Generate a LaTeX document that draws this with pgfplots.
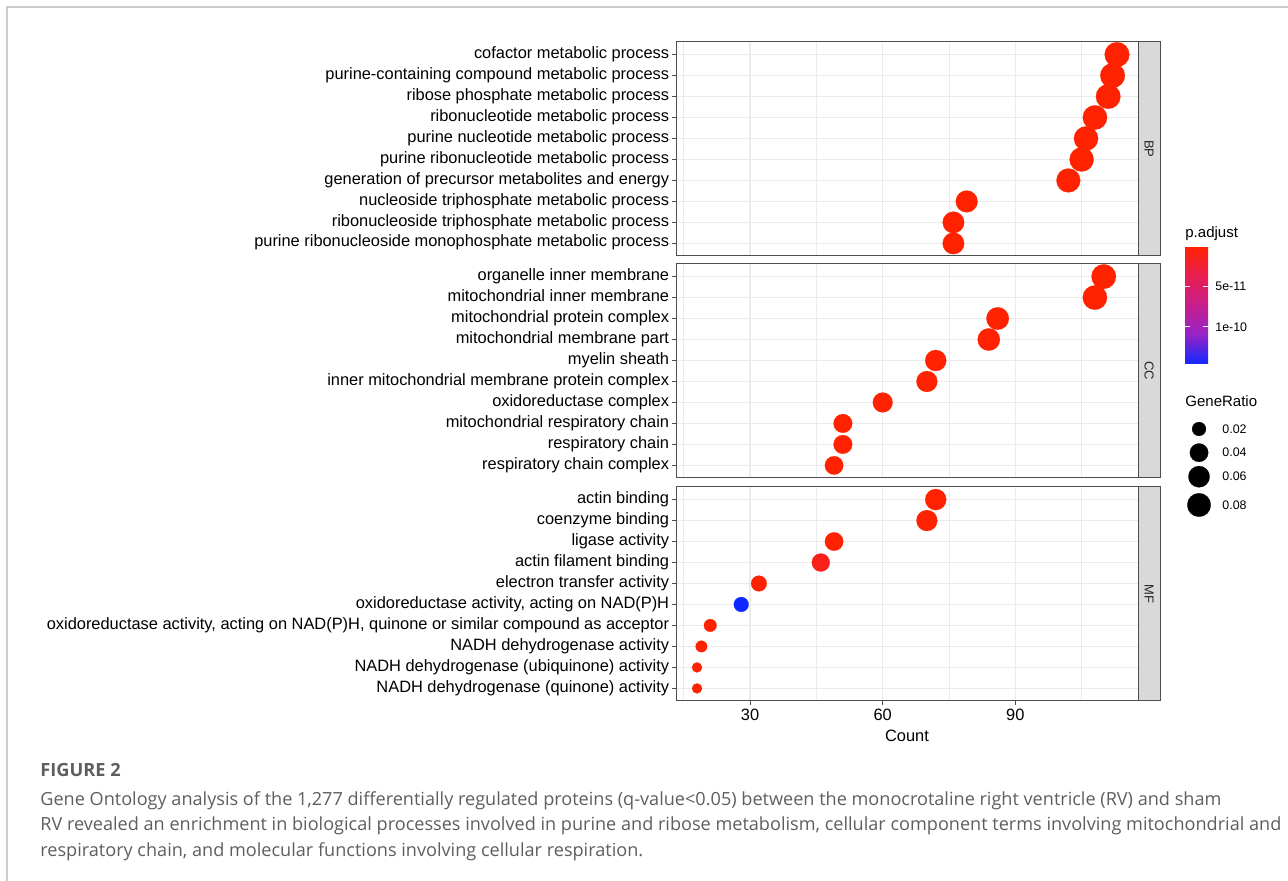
\documentclass[border=0pt]{standalone}
\usepackage{pgfplots}
\pgfplotsset{compat=1.18}
\usepackage{pgfplotstable}
\usepackage{fontspec}
\setmainfont{Liberation Sans}
\newfontfamily\capfont{Open Sans}

\definecolor{gridc}{HTML}{EBEBEB}
\definecolor{borderc}{HTML}{4D4D4D}
\definecolor{stripc}{HTML}{D9D9D9}
\definecolor{capc}{HTML}{5E5E5E}
\definecolor{framec}{HTML}{CCCCCC}

\pgfplotsset{
  /pgf/number format/assume math mode=true,
  colormap={padj}{rgb255(0)=(255,34,0) rgb255(1)=(232,30,80) rgb255(2)=(200,30,140) rgb255(3)=(150,35,200) rgb255(4)=(15,40,255)},
  panel/.style={
    scale only axis, width=231pt, height=107pt,
    xmin=13.25, xmax=117.75, ymin=0.4, ymax=10.6,
    xtick={30,60,90}, minor xtick={15,45,75,105},
    ytick={1,...,10},
    xtick pos=left, ytick pos=left,
    grid=both,
    major grid style={gridc, line width=0.6pt},
    minor grid style={gridc, line width=0.3pt},
    axis line style={borderc, line width=0.5pt},
    tick align=outside, major tick length=2pt, minor tick length=0pt,
    tick style={borderc, line width=0.5pt},
    typeset ticklabels with strut,
    tick label style={font=\fontsize{8.2}{9}\selectfont, black},
    yticklabel style={inner sep=0pt, xshift=-1.25pt},
    xticklabel style={inner sep=1.2pt},
    colormap name=padj,
    point meta min=0, point meta max=1.46e-10,
    clip mode=individual,
  },
  facetstrip/.style={
    after end axis/.append code={
      \draw[fill=stripc, draw=borderc, line width=0.5pt] (rel axis cs:1,0) rectangle (rel axis cs:1.0476,1);
      \node[rotate=-90, font=\fontsize{6.5}{7}\selectfont, text=black!85] at (rel axis cs:1.0238,0.5) {#1};
    }
  },
  dots/.style={
    scatter, only marks, mark=*, point meta=explicit,
    scatter/use mapped color={draw=mapped color, fill=mapped color},
    mark options={line width=0.1pt},
    visualization depends on={\thisrow{ratio} \as \ratio},
    scatter/@pre marker code/.append style={/tikz/mark size={2.5+3.675*sqrt(max(0,\ratio-0.0146)/0.0773)}},
  },
}

% row: 10 = top row of the panel
\pgfplotstableread{
row count ratio padj
10 113 0.0919 3.2e-40
9  112 0.0911 1.1e-38
8  111 0.0902 2.0e-38
7  108 0.0878 5.0e-37
6  106 0.0862 1.3e-35
5  105 0.0854 2.2e-35
4  102 0.0829 4.5e-33
3  79  0.0642 1.2e-30
2  76  0.0618 3.1e-29
1  76  0.0618 2.5e-28
}\tblBP

\pgfplotstableread{
row count ratio padj
10 110 0.0894 1.0e-45
9  108 0.0878 2.0e-45
8  86  0.0699 3.0e-40
7  84  0.0683 4.0e-40
6  72  0.0585 1.0e-25
5  70  0.0569 2.0e-35
4  60  0.0488 1.0e-30
3  51  0.0415 5.0e-30
2  51  0.0415 6.0e-30
1  49  0.0398 1.0e-28
}\tblCC

\pgfplotstableread{
row count ratio padj
10 72 0.0585 2.0e-14
9  70 0.0569 5.0e-15
8  49 0.0398 1.0e-13
7  46 0.0374 1.2e-11
6  32 0.0260 3.0e-15
5  28 0.0228 1.46e-10
4  21 0.0171 4.0e-13
3  19 0.0154 1.0e-13
2  18 0.0146 1.5e-13
1  18 0.0146 1.5e-13
}\tblMF

\pgfplotstableread{
x y ratio
1199 429 0.02
1199 452.7 0.04
1199 476.7 0.06
1199 505 0.08
}\tblLeg

\begin{document}
\begin{tikzpicture}
\path[use as bounding box] (0pt,0pt) rectangle (644pt,440.5pt);
\draw[framec, line width=0.8pt] (3.5pt,0pt) -- (3.5pt,437pt) -- (644pt,437pt);

% BP
\begin{axis}[panel, facetstrip=BP, at={(338pt,312.5pt)}, anchor=south west,
  xticklabels={}, xtick style={draw=none},
  yticklabels={{purine ribonucleoside monophosphate metabolic process},{ribonucleoside triphosphate metabolic process},{nucleoside triphosphate metabolic process},{generation of precursor metabolites and energy},{purine ribonucleotide metabolic process},{purine nucleotide metabolic process},{ribonucleotide metabolic process},{ribose phosphate metabolic process},{purine-containing compound metabolic process},{cofactor metabolic process}}]
\addplot[dots] table[x=count, y=row, meta=padj] {\tblBP};
\end{axis}

% CC
\begin{axis}[panel, facetstrip=CC, at={(338pt,201.5pt)}, anchor=south west,
  xticklabels={}, xtick style={draw=none},
  yticklabels={{respiratory chain complex},{respiratory chain},{mitochondrial respiratory chain},{oxidoreductase complex},{inner mitochondrial membrane protein complex},{myelin sheath},{mitochondrial membrane part},{mitochondrial protein complex},{mitochondrial inner membrane},{organelle inner membrane}},
  colorbar,
  colorbar style={
    at={(1.1017,1.0841)}, anchor=north west,
    scale only axis, width=11.5pt, height=59pt,
    y dir=reverse,
    scaled y ticks=false,
    ytick={5e-11,1e-10}, yticklabels={5e-11,1e-10},
    yticklabel pos=right, ytick pos=both,
    tick align=inside, ytick align=inside, major tick length=2.3pt,
    tick style={white, line width=0.5pt},
    ytick style={white, line width=0.5pt},
    axis line style={draw=none},
    yticklabel style={font=\fontsize{6.2}{7}\selectfont, anchor=west, inner sep=0pt, xshift=3.5pt},
    title={p.adjust},
    title style={at={(0,1)}, anchor=base west, inner sep=0pt, yshift=-2pt, font=\fontsize{7.5}{9}\selectfont},
  }]
\addplot[dots] table[x=count, y=row, meta=padj] {\tblCC};
\end{axis}

% MF
\begin{axis}[panel, facetstrip=MF, at={(338pt,90pt)}, anchor=south west,
  xlabel={Count},
  xlabel style={at={(axis description cs:0.5,0)}, anchor=center, yshift=-17.3pt, font=\fontsize{8.2}{9}\selectfont},
  yticklabels={{NADH dehydrogenase (quinone) activity},{NADH dehydrogenase (ubiquinone) activity},{NADH dehydrogenase activity},{oxidoreductase activity, acting on NAD(P)H, quinone or similar compound as acceptor},{oxidoreductase activity, acting on NAD(P)H},{electron transfer activity},{actin filament binding},{ligase activity},{coenzyme binding},{actin binding}}]
\addplot[dots] table[x=count, y=row, meta=padj] {\tblMF};
\end{axis}

% size legend (pixel-coordinate overlay axis)
\begin{axis}[at={(0pt,0pt)}, anchor=south west, scale only axis, width=644pt, height=440.5pt,
  xmin=0, xmax=1288, ymin=0, ymax=881, y dir=reverse, hide axis, clip=false]
\addplot[scatter, only marks, mark=*, point meta=explicit,
  scatter/use mapped color={draw=black, fill=black},
  mark options={line width=0.1pt},
  visualization depends on={\thisrow{ratio} \as \ratio},
  scatter/@pre marker code/.append style={/tikz/mark size={2.5+3.675*sqrt(max(0,\ratio-0.0146)/0.0773)}}]
  table[x=x, y=y, meta=ratio] {\tblLeg};
\node[anchor=base west, inner sep=0pt, font=\fontsize{7.5}{9}\selectfont] at (axis cs:1185,407) {GeneRatio};
\node[anchor=west, inner sep=0pt, font=\fontsize{6.2}{7}\selectfont] at (axis cs:1222,429) {0.02};
\node[anchor=west, inner sep=0pt, font=\fontsize{6.2}{7}\selectfont] at (axis cs:1222,452.7) {0.04};
\node[anchor=west, inner sep=0pt, font=\fontsize{6.2}{7}\selectfont] at (axis cs:1222,476.7) {0.06};
\node[anchor=west, inner sep=0pt, font=\fontsize{6.2}{7}\selectfont] at (axis cs:1222,505) {0.08};
\end{axis}

% caption
\node[anchor=base west, inner sep=0pt, text=capc, font=\capfont\bfseries\fontsize{9.1}{11}\selectfont] at (20pt,52pt) {FIGURE 2};
\node[anchor=base west, inner sep=0pt, text=capc, font=\capfont\fontsize{9.05}{11}\selectfont] at (20pt,37.5pt) {Gene Ontology analysis of the 1,277 differentially regulated proteins (q-value<0.05) between the monocrotaline right ventricle (RV) and sham};
\node[anchor=base west, inner sep=0pt, text=capc, font=\capfont\fontsize{9.05}{11}\selectfont] at (20pt,25pt) {RV revealed an enrichment in biological processes involved in purine and ribose metabolism, cellular component terms involving mitochondrial and};
\node[anchor=base west, inner sep=0pt, text=capc, font=\capfont\fontsize{9.05}{11}\selectfont] at (20pt,12pt) {respiratory chain, and molecular functions involving cellular respiration.};
\end{tikzpicture}
\end{document}
